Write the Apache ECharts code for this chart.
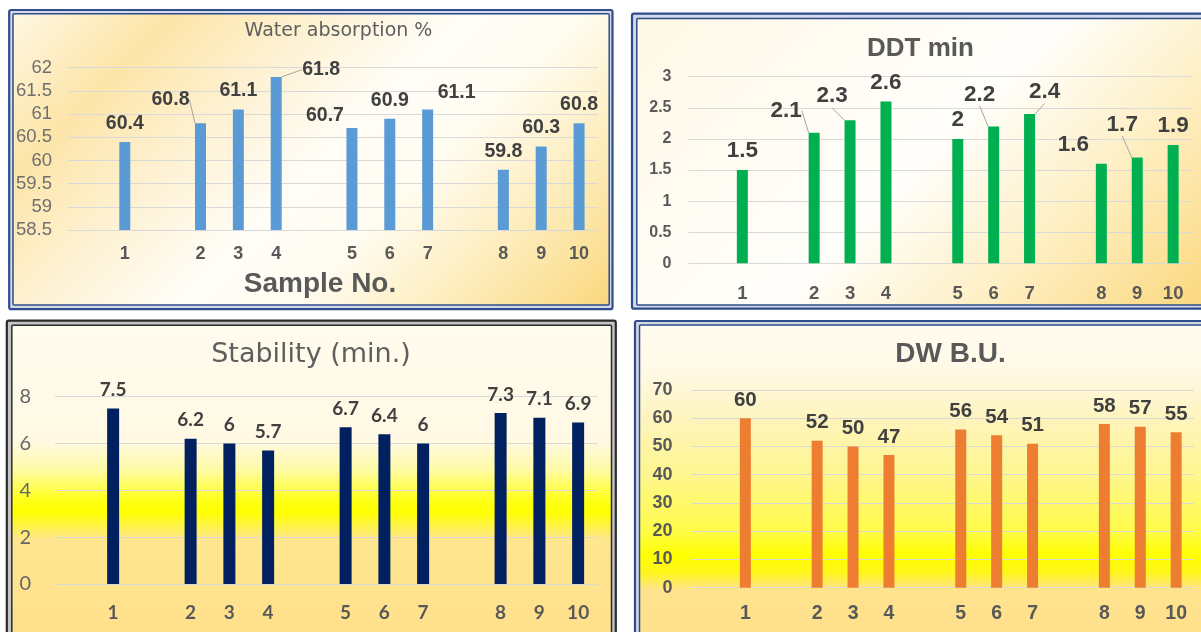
<!DOCTYPE html>
<html>
<head>
<meta charset="utf-8">
<title>Dough quality by sample</title>
<style>
  html, body { margin: 0; padding: 0; background: #ffffff; }
  #chart { width: 1201px; height: 632px; }
</style>
<script src="https://cdn.jsdelivr.net/npm/echarts@6/dist/echarts.min.js"></script>
</head>
<body>
<div id="chart"></div>
<script>
// Sample slots along the x axis; blank entries are the spacer rows between sample groups.
const sampleSlots = ['', '1', '', '2', '3', '4', '', '5', '6', '7', '', '8', '9', '10'];

const waterAbsorption = [null, 60.4, null, 60.8, 61.1, 61.8, null, 60.7, 60.9, 61.1, null, 59.8, 60.3, 60.8];
const ddtMin          = [null, 1.5,  null, 2.1,  2.3,  2.6,  null, 2,    2.2,  2.4,  null, 1.6,  1.7,  1.9];
const stabilityMin    = [null, 7.5,  null, 6.2,  6,    5.7,  null, 6.7,  6.4,  6,    null, 7.3,  7.1,  6.9];
const dwBU            = [null, 60,   null, 52,   50,   47,   null, 56,   54,   51,   null, 58,   57,   55];

const waterTicks     = [58.5, 59, 59.5, 60, 60.5, 61, 61.5, 62];
const ddtTicks       = [0, 0.5, 1, 1.5, 2, 2.5, 3];
const stabilityTicks = [0, 2, 4, 6, 8];
const dwTicks        = [0, 10, 20, 30, 40, 50, 60, 70];

// Data-label nudges (pixels) for labels that sit beside their bar; "line" draws a leader.
const waterCallouts = {
  '2': { dx: -30, dy: -5, line: true },
  '4': { dx: 45, dy: 11, line: true },
  '5': { dx: -27, dy: 6 },
  '7': { dx: 29, dy: 2 }
};
const ddtCallouts = {
  '2': { dx: -28, dy: -3, line: true },
  '3': { dx: -18, dy: -5, line: true },
  '6': { dx: -14, dy: -13, line: true },
  '7': { dx: 15, dy: -3, line: true },
  '8': { dx: -28, dy: 0 },
  '9': { dx: -15, dy: -14, line: true }
};

const ARIAL = "'Liberation Sans', Arial, sans-serif";
const HUMAN = "Lato, 'Liberation Sans', sans-serif";
const WIDE = "'DejaVu Sans', 'Liberation Sans', sans-serif";
const GRID_LINE = '#D9D9D9';

function range(ticks) {
  return { min: ticks[0], max: ticks[ticks.length - 1], interval: ticks[1] - ticks[0] };
}

const panels = [
  {
    grid: { left: 68, top: 67.7, width: 530, height: 162.3 },
    ticks: waterTicks, values: waterAbsorption, color: '#5B9BD5', barWidth: 11,
    yLabel: { fontFamily: ARIAL, fontSize: 18.5, fontWeight: 'normal', color: '#6F6F6F', margin: 16 },
    xLabel: { fontFamily: ARIAL, fontSize: 18, fontWeight: 'bold', color: '#595959', margin: 15 },
    valueLabel: { fontFamily: ARIAL, fontSize: 19.5, fontWeight: 'bold', color: '#404040', distance: 8.5 },
    callouts: waterCallouts,
    axisName: 'Sample No.'
  },
  {
    grid: { left: 688.5, top: 76.7, width: 502.6, height: 186.6 },
    ticks: ddtTicks, values: ddtMin, color: '#00B050', barWidth: 11,
    yLabel: { fontFamily: ARIAL, fontSize: 16, fontWeight: 'bold', color: '#595959', margin: 17 },
    xLabel: { fontFamily: ARIAL, fontSize: 18.5, fontWeight: 'bold', color: '#595959', margin: 21.5 },
    valueLabel: { fontFamily: ARIAL, fontSize: 22.5, fontWeight: 'bold', color: '#404040', distance: 7.5 },
    callouts: ddtCallouts
  },
  {
    grid: { left: 55, top: 396.7, width: 542.5, height: 187.3 },
    ticks: stabilityTicks, values: stabilityMin, color: '#002060', barWidth: 12,
    yLabel: { fontFamily: HUMAN, fontSize: 20, fontWeight: 'normal', color: '#666666', margin: 24 },
    xLabel: { fontFamily: HUMAN, fontSize: 19, fontWeight: 'bold', color: '#595959', margin: 19.5 },
    valueLabel: { fontFamily: HUMAN, fontSize: 19, fontWeight: 'bold', color: '#404040', distance: 9 },
    callouts: {}
  },
  {
    grid: { left: 691.5, top: 390, width: 502.6, height: 197.7 },
    ticks: dwTicks, values: dwBU, color: '#ED7D31', barWidth: 11,
    yLabel: { fontFamily: ARIAL, fontSize: 18, fontWeight: 'bold', color: '#595959', margin: 19 },
    xLabel: { fontFamily: ARIAL, fontSize: 19.5, fontWeight: 'bold', color: '#595959', margin: 15.5 },
    valueLabel: { fontFamily: ARIAL, fontSize: 20.5, fontWeight: 'bold', color: '#404040', distance: 7.5 },
    callouts: {}
  }
];

const titles = [
  { text: 'Water absorption %', x: 338.5, y: 31, font: 'normal 19px ' + WIDE, color: '#5E5E5E' },
  { text: 'DDT min', x: 920.5, y: 49, font: 'bold 26px ' + ARIAL, color: '#595959' },
  { text: 'Stability (min.)', x: 311, y: 355, font: 'normal 27px ' + WIDE, color: '#5E5E5E' },
  { text: 'DW B.U.', x: 950.5, y: 354, font: 'bold 28px ' + ARIAL, color: '#595959' }
];

function linear(x, y, x2, y2, stops) {
  return {
    type: 'linear', x: x, y: y, x2: x2, y2: y2, global: true,
    colorStops: stops.map(s => ({ offset: s[0], color: s[1] }))
  };
}

// Chart-area frames: outer rule, pale gap, inner rule; the inner box carries the fill.
const frames = [
  {
    outer: [9.2, 10, 603.3, 299.2], inner: [13, 13.7, 596.2, 291.3],
    rule: '#2F4D8C', gap: '#D3D9E6',
    fill: linear(13, 13, 463, 463, [
      [0, '#FFF7E3'], [0.18, '#FDE5A8'], [0.32, '#FEF0CE'], [0.5, '#FFFDF7'],
      [0.63, '#FFFCF2'], [0.82, '#FDEBB6'], [1, '#FAD67A']
    ])
  },
  {
    outer: [632, 13.7, 620, 295], inner: [636.8, 18.5, 620, 286.5],
    rule: '#2F4D8C', gap: '#D3D9E6',
    fill: linear(637, 18, 1067, 448, [
      [0, '#FFF8E5'], [0.3, '#FFFCF4'], [0.5, '#FFFEFA'], [0.72, '#FEF0C6'], [1, '#FBD77C']
    ])
  },
  {
    outer: [6.8, 320.7, 609, 360], inner: [11.8, 325.2, 599.7, 360],
    rule: '#2B2B2B', gap: '#C4C4C4',
    fill: linear(0, 325, 0, 632, [
      [0, '#FFFBEE'], [0.375, '#FFF9E4'], [0.47, '#FFFBA8'], [0.57, '#FFFF1A'],
      [0.61, '#FFFF00'], [0.70, '#FFE690'], [1, '#FFE08C']
    ])
  },
  {
    outer: [635, 321, 620, 360], inner: [639.5, 325, 620, 360],
    rule: '#2F4D8C', gap: '#D3D9E6',
    fill: linear(0, 325, 0, 632, [
      [0, '#FFFBEF'], [0.147, '#FFF9E6'], [0.303, '#FEF4BE'], [0.489, '#FEF68E'],
      [0.671, '#FFFB48'], [0.752, '#FFFF00'], [0.805, '#FFF51A'], [0.863, '#FFE38E'], [1, '#FFE08C']
    ])
  }
];

const graphics = [];
frames.forEach(f => {
  graphics.push({
    type: 'rect', z: -20, silent: true,
    shape: { x: f.outer[0], y: f.outer[1], width: f.outer[2], height: f.outer[3], r: 2 },
    style: { fill: f.gap, stroke: f.rule, lineWidth: 2.2 }
  });
  graphics.push({
    type: 'rect', z: -19, silent: true,
    shape: { x: f.inner[0], y: f.inner[1], width: f.inner[2], height: f.inner[3], r: 1 },
    style: { fill: f.fill, stroke: f.rule, lineWidth: 1.5 }
  });
});
titles.forEach(t => {
  graphics.push({
    type: 'text', z: 10, silent: true, x: t.x, y: t.y,
    style: {
      text: t.text, font: t.font, fill: t.color,
      align: 'center', verticalAlign: 'middle',
      textAlign: 'center', textVerticalAlign: 'middle'
    }
  });
});

const option = {
  animation: false,
  backgroundColor: '#ffffff',
  graphic: { elements: graphics },
  grid: panels.map(p => Object.assign({ containLabel: false }, p.grid)),
  xAxis: panels.map((p, i) => {
    const axis = {
      type: 'category', gridIndex: i, data: sampleSlots,
      axisLine: { show: false }, axisTick: { show: false }, splitLine: { show: false },
      axisLabel: {
        interval: 0, margin: p.xLabel.margin, color: p.xLabel.color,
        fontFamily: p.xLabel.fontFamily, fontSize: p.xLabel.fontSize, fontWeight: p.xLabel.fontWeight
      }
    };
    if (p.axisName) {
      axis.name = p.axisName;
      axis.nameLocation = 'middle';
      axis.nameGap = 40.5;
      axis.nameTextStyle = {
        fontFamily: ARIAL, fontSize: 28, fontWeight: 'bold', color: '#595959',
        padding: [0, 26, 0, 0]
      };
    }
    return axis;
  }),
  yAxis: panels.map((p, i) => Object.assign({
    type: 'value', gridIndex: i, startValue: p.ticks[0],
    axisLine: { show: false }, axisTick: { show: false },
    splitLine: { show: true, lineStyle: { color: GRID_LINE, width: 1 } },
    axisLabel: {
      margin: p.yLabel.margin, color: p.yLabel.color,
      fontFamily: p.yLabel.fontFamily, fontSize: p.yLabel.fontSize, fontWeight: p.yLabel.fontWeight
    }
  }, range(p.ticks))),
  series: panels.map((p, i) => ({
    type: 'bar', xAxisIndex: i, yAxisIndex: i, barWidth: p.barWidth, clip: true, silent: true,
    itemStyle: { color: p.color },
    data: p.values.map((v, k) => {
      if (v == null) return null;
      const c = p.callouts[sampleSlots[k]];
      return { value: v, labelLine: { show: !!(c && c.line) } };
    }),
    label: {
      show: true, position: 'top', distance: p.valueLabel.distance,
      color: p.valueLabel.color, fontFamily: p.valueLabel.fontFamily,
      fontSize: p.valueLabel.fontSize, fontWeight: p.valueLabel.fontWeight
    },
    labelLine: { show: false, lineStyle: { color: '#A6A6A6', width: 1 } },
    labelLayout: params => {
      const c = p.callouts[sampleSlots[params.dataIndex]];
      return c ? { dx: c.dx, dy: c.dy } : {};
    }
  }))
};

const chart = echarts.init(document.getElementById('chart'), null, { renderer: 'canvas' });
chart.setOption(option);
</script>
</body>
</html>
